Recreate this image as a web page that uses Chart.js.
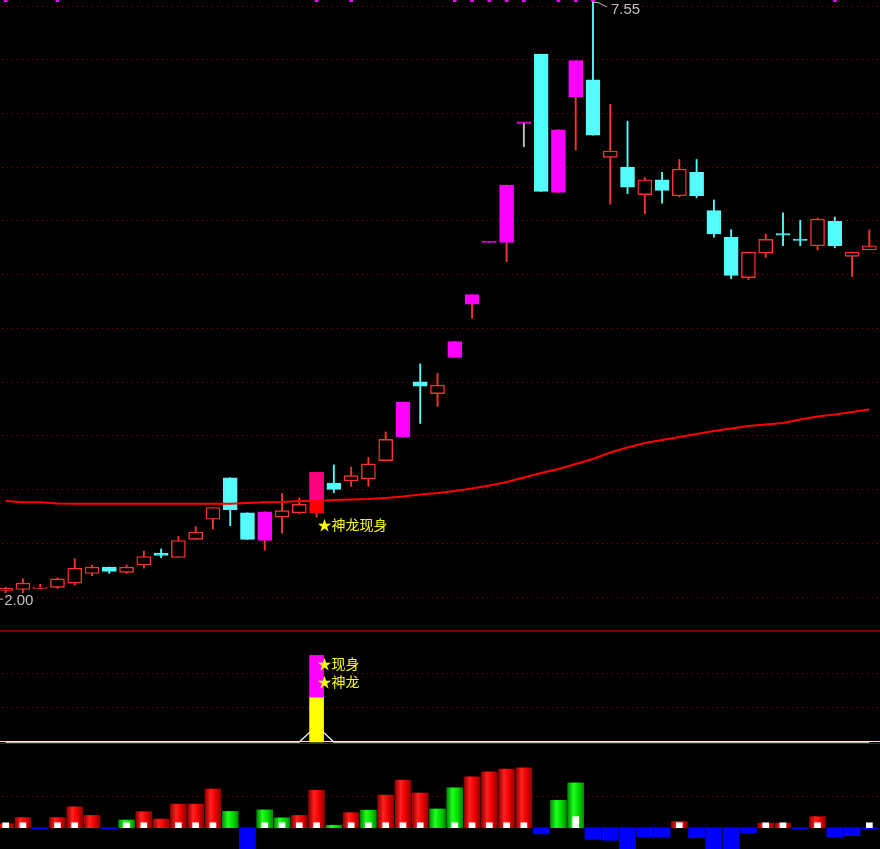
<!DOCTYPE html>
<html>
<head>
<meta charset="utf-8">
<script src="https://cdn.jsdelivr.net/npm/chart.js@4.4.0/dist/chart.umd.min.js"></script>
<style>
  html, body { margin: 0; padding: 0; background: #000; overflow: hidden; }
  body { width: 880px; height: 849px; position: relative; }
  canvas { position: absolute; left: -3px; }
  .sep { position: absolute; left: 0; width: 880px; }
</style>
</head>
<body>
<div class="sep" style="top:741px;height:1px;background:#e8e8e8"></div>
<canvas id="kline" width="881" height="630" style="top:0"></canvas>
<div class="sep" style="top:630px;height:2px;background:#800000"></div>
<canvas id="signal" width="881" height="111" style="top:632px"></canvas>
<div class="sep" style="top:743px;height:1px;background:#a00000"></div>
<canvas id="flow" width="881" height="105" style="top:744px"></canvas>
<script>
// ---- dati K线 (51 giorni) ----
const days = Array.from({ length: 51 }, (_, i) => i + 1);

const open  = [2.02,2.03,2.04,2.05,2.09,2.18,2.24,2.19,2.26,2.37,2.33,2.50,2.69,3.08,2.75,2.49,2.71,2.75,2.75,3.03,3.05,3.07,3.24,3.46,3.98,3.87,4.21,4.71,5.29,5.29,6.41,7.06,5.76,6.66,6.82,6.09,6.00,5.74,5.88,5.73,5.95,5.59,5.34,4.96,5.19,5.37,5.32,5.26,5.49,5.16,5.22];
const high  = [2.05,2.13,2.08,2.14,2.32,2.26,2.24,2.26,2.39,2.41,2.53,2.62,2.80,3.08,2.75,2.76,2.93,2.89,3.13,3.20,3.18,3.27,3.51,3.79,4.15,4.06,4.36,4.80,5.29,5.83,6.41,7.06,6.35,7.00,7.55,6.59,6.43,5.90,5.95,6.07,6.07,5.69,5.41,5.20,5.37,5.57,5.50,5.52,5.53,5.20,5.41];
const low   = [2.00,2.00,2.04,2.04,2.07,2.16,2.18,2.18,2.23,2.33,2.33,2.50,2.60,2.63,2.50,2.40,2.56,2.74,2.71,2.94,3.00,3.00,3.24,3.46,3.59,3.75,4.21,4.58,5.29,5.11,6.19,5.77,5.76,6.16,6.30,5.65,5.75,5.56,5.66,5.72,5.71,5.34,4.95,4.94,5.15,5.26,5.26,5.22,5.24,4.97,5.22];
const close = [2.04,2.09,2.05,2.13,2.23,2.24,2.20,2.24,2.34,2.35,2.49,2.57,2.80,2.78,2.50,2.76,2.77,2.83,3.13,2.97,3.10,3.21,3.44,3.79,3.94,3.95,4.36,4.80,5.29,5.83,6.41,5.77,6.35,7.00,6.30,6.15,5.81,5.88,5.78,5.98,5.73,5.37,4.98,5.20,5.32,5.36,5.31,5.51,5.26,5.20,5.26];

// media mobile (linea rossa)
const ma = [2.862,2.850,2.850,2.838,2.836,2.836,2.836,2.836,2.836,2.836,2.836,2.836,2.836,2.836,2.842,2.850,2.852,2.862,2.862,2.871,2.876,2.880,2.890,2.904,2.923,2.937,2.956,2.979,3.007,3.040,3.082,3.125,3.162,3.209,3.256,3.317,3.364,3.407,3.435,3.463,3.491,3.519,3.543,3.566,3.580,3.595,3.627,3.656,3.674,3.698,3.721];

// giorni di limite al rialzo (candele magenta) e giorno del segnale
const limitUp = [15, 18, 23, 26, 27, 28, 29, 30, 32, 33];
const signalIdx = 18;
const signalText = '★神龙现身';
const topMarks = [0, 3, 18, 20, 26, 27, 28, 29, 30, 32, 33, 34, 48];

// scala prezzi e griglia
const priceMin = 1.649, priceMax = 7.569;
const priceGrid = [7.512, 7.008, 6.503, 5.998, 5.493, 4.988, 4.483, 3.979, 3.474, 2.969, 2.464, 1.959];

// pannello centrale
const sigLine   = days.map((_, i) => i === signalIdx ? 0.47 : 0);
const sigYellow = days.map((_, i) => i === signalIdx ? 1.29 : 0);
const sigTotal  = days.map((_, i) => i === signalIdx ? 2.52 : 0);
const sigLabels = ['★现身', '★神龙'];
const sigGrid = [1, 2];

// pannello inferiore
const flow = [0.13,0.33,-0.04,0.33,0.68,0.40,-0.04,0.25,0.52,0.28,0.77,0.77,1.26,0.53,-1.00,0.58,0.32,0.40,1.22,0.08,0.49,0.57,1.06,1.55,1.13,0.61,1.30,1.66,1.82,1.91,1.95,-0.20,0.89,1.46,-0.38,-0.41,-0.90,-0.30,-0.29,0.20,-0.33,-0.90,-0.90,-0.17,0.15,0.15,-0.04,0.36,-0.30,-0.26,-0.05];
const greenIdx = [7, 13, 15, 16, 19, 21, 25, 26, 32, 33];
const flowMark = [0.16,0.16,null,0.16,0.16,null,null,0.16,0.16,null,0.16,0.16,0.16,null,null,0.16,0.16,0.16,0.16,null,0.16,0.16,0.16,0.16,0.16,null,0.16,0.16,0.16,0.16,0.16,null,null,0.36,null,null,null,null,null,0.16,null,null,null,null,0.16,0.16,null,0.16,null,null,0.16];
const flowGrid = [1];

// ---- colori ----
const UP = '#ff3232', DOWN = '#54fcfc', LIMIT = '#ff00ff', PINK = '#ff0080';
const GRID = '#990000';

// costruzione candele
const bodies = [], bodyFill = [], bodyLine = [], wicks = [], wickColor = [], dragonTop = [];
for (let i = 0; i < days.length; i++) {
    let lo = Math.min(open[i], close[i]);
    let hi = Math.max(open[i], close[i]);
    let fill, line;
    if (i === signalIdx) {
        lo = open[i]; hi = ma[i];
        fill = line = '#ff0000';
    } else if (limitUp.includes(i)) {
        fill = line = LIMIT;
    } else if (close[i] >= open[i]) {
        fill = '#000000'; line = UP;
    } else {
        fill = line = DOWN;
    }
    bodies.push([lo, hi]);
    bodyFill.push(fill);
    bodyLine.push(line);
    wicks.push([low[i], high[i]]);
    if (open[i] === close[i]) wickColor.push('#c0c0c0');
    else if (close[i] < open[i] && !limitUp.includes(i)) wickColor.push(DOWN);
    else wickColor.push(UP);
    dragonTop.push(i === signalIdx ? [ma[i], close[i]] : null);
}
const topMarkData = days.map((_, i) => topMarks.includes(i) ? [7.553, priceMax] : null);

function yAxis(min, max, grid) {
    return {
        display: true,
        min: min, max: max,
        ticks: { display: false },
        grid: { color: GRID, drawTicks: false, lineWidth: 1 },
        border: { display: false, dash: [1, 4] },
        afterBuildTicks: (axis) => { axis.ticks = grid.map(v => ({ value: v })); }
    };
}
const xAxis = { type: 'category', display: false, offset: true };
const base = {
    responsive: false,
    animation: false,
    events: [],
    layout: { padding: 0 },
    plugins: { legend: { display: false }, tooltip: { enabled: false } }
};

// scritte sul grafico dei prezzi
const priceNotes = {
    id: 'priceNotes',
    afterDatasetsDraw(chart) {
        const { ctx, scales: { x, y } } = chart;
        ctx.save();
        // massimo
        const maxI = high.indexOf(Math.max(...high));
        const hx = x.getPixelForValue(maxI), hy = y.getPixelForValue(high[maxI]);
        ctx.strokeStyle = '#c0c0c0';
        ctx.lineWidth = 1;
        ctx.beginPath();
        ctx.moveTo(hx + 1, hy + 0.5);
        ctx.lineTo(hx + 5, hy + 0.5);
        ctx.lineTo(hx + 14, hy + 5);
        ctx.stroke();
        ctx.fillStyle = '#c0c0c0';
        ctx.font = '15px "Liberation Sans"';
        ctx.textBaseline = 'alphabetic';
        ctx.fillText(high[maxI].toFixed(2), hx + 18, hy + 11.5);
        // minimo
        const minI = low.indexOf(Math.min(...low));
        const lx = x.getPixelForValue(minI), ly = y.getPixelForValue(low[minI]);
        ctx.beginPath();
        ctx.moveTo(lx - 6, ly + 6.5);
        ctx.lineTo(lx - 2.5, ly + 6.5);
        ctx.stroke();
        ctx.fillText(low[minI].toFixed(2), lx - 1.5, ly + 12);
        // segnale
        const sx = x.getPixelForValue(signalIdx), sy = y.getPixelForValue(low[signalIdx]);
        ctx.fillStyle = '#ffff00';
        ctx.font = '14px "Noto Sans CJK SC"';
        ctx.textBaseline = 'top';
        ctx.fillText(signalText, sx + 1, sy + 1);
        ctx.restore();
    }
};

new Chart(document.getElementById('kline'), {
    type: 'bar',
    data: {
        labels: days,
        datasets: [
            { type: 'line', data: ma, borderColor: '#ff0000', borderWidth: 2, pointRadius: 0, tension: 0, order: 0 },
            { data: dragonTop, backgroundColor: PINK, borderWidth: 0, barThickness: 14, grouped: false, order: 1 },
            { data: bodies, backgroundColor: bodyFill, borderColor: bodyLine, borderWidth: 1.4, borderSkipped: false,
              barThickness: 14, minBarLength: 1.4, grouped: false, order: 2 },
            { data: wicks, backgroundColor: wickColor, borderWidth: 0, barThickness: 1.2, grouped: false, order: 3 },
            { data: topMarkData, backgroundColor: LIMIT, borderWidth: 0, barThickness: 3, grouped: false, order: 4 }
        ]
    },
    options: Object.assign({}, base, {
        scales: { x: xAxis, y: yAxis(priceMin, priceMax, priceGrid) }
    }),
    plugins: [priceNotes]
});

// ---- pannello centrale ----
const signalNotes = {
    id: 'signalNotes',
    afterDatasetsDraw(chart) {
        const { ctx, scales: { x, y } } = chart;
        const sx = x.getPixelForValue(signalIdx);
        const sy = y.getPixelForValue(sigTotal[signalIdx]);
        ctx.save();
        ctx.fillStyle = '#ffff00';
        ctx.font = '14px "Noto Sans CJK SC"';
        ctx.textBaseline = 'top';
        sigLabels.forEach((t, k) => ctx.fillText(t, sx + 1, sy + 1 + k * 18));
        ctx.restore();
    }
};

new Chart(document.getElementById('signal'), {
    type: 'bar',
    data: {
        labels: days,
        datasets: [
            { data: sigYellow.map(v => v > 0 ? [0, v] : null), backgroundColor: '#ffff00', borderWidth: 0,
              barThickness: 14, grouped: false, order: 1 },
            { data: sigTotal.map((v, i) => v > 0 ? [sigYellow[i], v] : null), backgroundColor: '#ff00ff', borderWidth: 0,
              barThickness: 14, grouped: false, order: 1 },
            { type: 'line', data: sigLine, borderColor: '#f0f0f0', borderWidth: 1.3, pointRadius: 0, tension: 0, order: 2 }
        ]
    },
    options: Object.assign({}, base, {
        scales: { x: xAxis, y: yAxis(-0.029, 3.202, sigGrid) }
    }),
    plugins: [signalNotes]
});

// ---- pannello inferiore ----
function shaded(edge, mid, light) {
    return (c) => {
        if (c.type !== 'data' || !c.chart.scales || !c.chart.scales.x) return mid;
        const x = c.chart.scales.x.getPixelForValue(c.dataIndex);
        if (!isFinite(x)) return mid;
        const g = c.chart.ctx.createLinearGradient(x - 8, 0, x + 8, 0);
        g.addColorStop(0, edge);
        g.addColorStop(0.35, light);
        g.addColorStop(0.65, mid);
        g.addColorStop(1, edge);
        return g;
    };
}

new Chart(document.getElementById('flow'), {
    type: 'bar',
    data: {
        labels: days,
        datasets: [
            { data: flowMark, backgroundColor: '#ffffff', borderWidth: 0, barThickness: 6, grouped: false, order: 0 },
            { data: flow.map((v, i) => v > 0 && !greenIdx.includes(i) ? v : null),
              backgroundColor: shaded('#900000', '#ee0000', '#ff2020'), borderWidth: 0, barThickness: 16, grouped: false, order: 1 },
            { data: flow.map((v, i) => v > 0 && greenIdx.includes(i) ? v : null),
              backgroundColor: shaded('#008c00', '#00e000', '#20ff20'), borderWidth: 0, barThickness: 16, grouped: false, order: 1 },
            { data: flow.map(v => v < 0 ? v : null), backgroundColor: '#0000ff', borderWidth: 0,
              barThickness: 16, grouped: false, order: 1 }
        ]
    },
    options: Object.assign({}, base, {
        scales: { x: xAxis, y: yAxis(-0.694, 2.726, flowGrid) }
    })
});
</script>
</body>
</html>
